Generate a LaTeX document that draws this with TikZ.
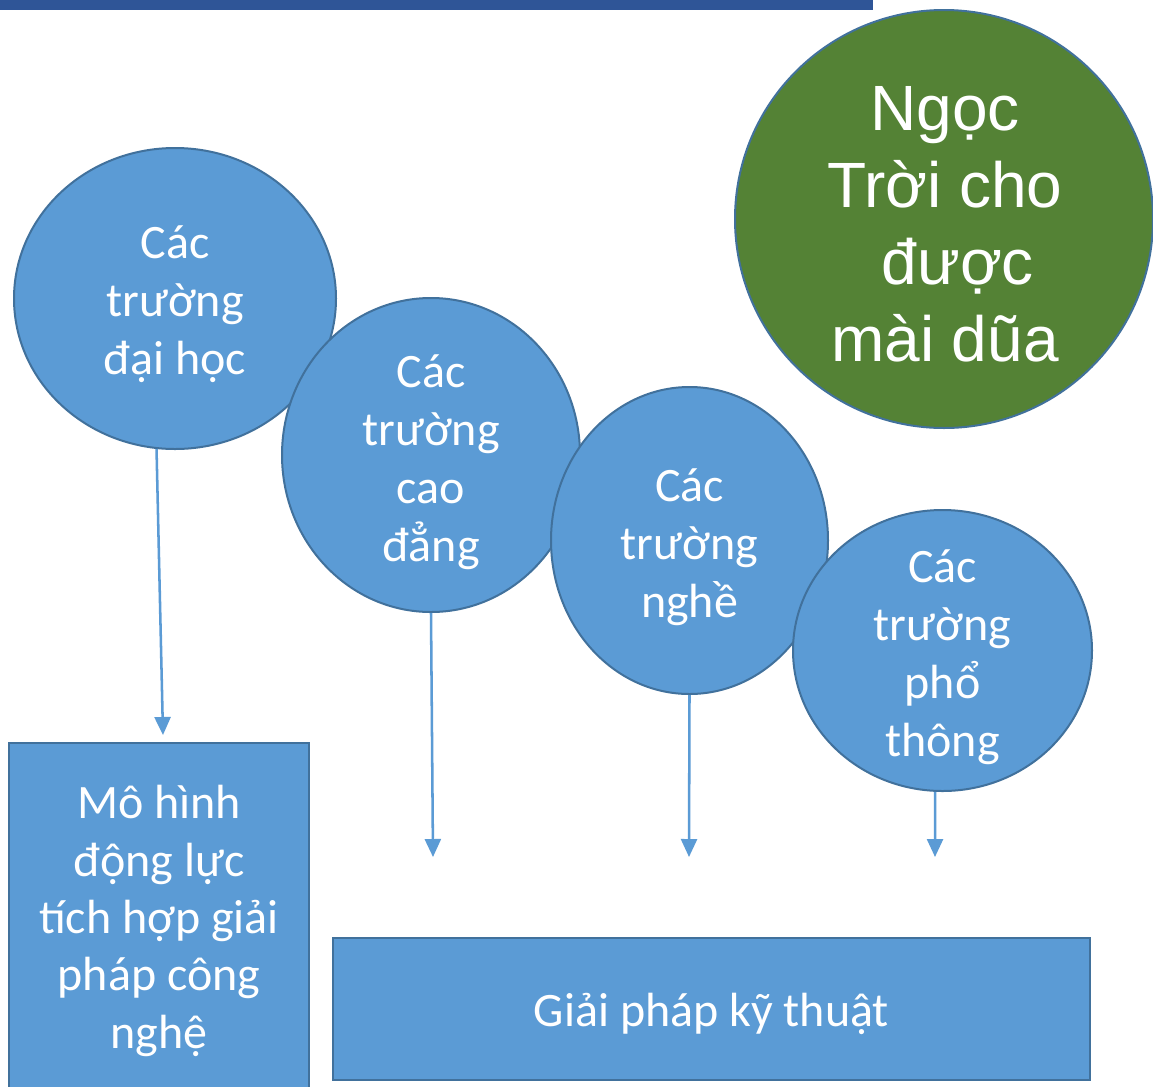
\documentclass[tikz,border=0pt]{standalone}
\usepackage{fontspec}
\setmainfont{Carlito}
\newfontfamily\arialfont{Liberation Sans}
\usetikzlibrary{positioning, arrows.meta, shapes.geometric}
\definecolor{schoolfill}{RGB}{91,155,213}
\definecolor{schoolline}{RGB}{65,113,156}
\definecolor{giftfill}{RGB}{84,130,53}
\definecolor{topbar}{RGB}{47,85,151}
\tikzset{
  schoolnode/.style={
    ellipse, draw=schoolline, line width=1.5pt,
    fill=schoolfill, inner sep=0pt
  },
  schooltext/.style={
    align=center, text=white, inner sep=0pt,
    font=\fontsize{36}{43.5}\selectfont
  },
  giftnode/.style={
    circle, draw=schoolline, line width=1.5pt,
    fill=giftfill, inner sep=0pt, minimum size=313.5pt
  },
  gifttext/.style={
    align=center, text=white, inner sep=0pt,
    font=\arialfont\fontsize{48}{57.75}\selectfont
  },
  solbox/.style={
    rectangle, draw=schoolline, line width=1.5pt,
    fill=schoolfill, align=center, text=white,
    font=\fontsize{36}{43}\selectfont
  },
  linkarrow/.style={
    -{Triangle[length=13.5pt,width=12pt]}, draw=schoolfill, line width=1.9pt
  }
}
\begin{document}
\begin{tikzpicture}[x=0.75pt, y=-0.75pt]
  \clip (0,0) rectangle (1153,1086);
  \fill[white] (0,0) rectangle (1153,1086);
  \fill[topbar] (0,0) rectangle (873,10);

  \node[giftnode] (gift) at (944,219) {};
  \node[gifttext] (gift-t) at (945,224) {Ngọc\\Trời cho\\\hspace*{0.4em}được\\mài dũa};

  % the four kinds of schools
  \node[schoolnode, minimum width=241.5pt, minimum height=225.75pt] (dh) at (175,298.5) {};
  \node[schooltext] (dh-t) at (175,304) {Các\\trường\\đại học};
  \node[schoolnode, minimum width=223.5pt, minimum height=235.5pt] (cd) at (431,455) {};
  \node[schooltext] (cd-t) at (431,462) {Các\\trường\\cao\\đẳng};
  \node[schoolnode, minimum width=207.75pt, minimum height=230.25pt] (ng) at (689.5,540.5) {};
  \node[schooltext] (ng-t) at (689.5,547) {Các\\trường\\nghề};
  \node[schoolnode, minimum width=224.25pt, minimum height=210.75pt] (pt) at (942.5,650.5) {};
  \node[schooltext] (pt-t) at (942.5,657) {Các\\trường\\phổ\\thông};

  \node[solbox, minimum width=225pt, minimum height=267pt] (mh) at (159,921)
    {Mô hình\\động lực\\tích hợp giải\\pháp công\\nghệ};
  \node[solbox, minimum width=567.75pt, minimum height=106.5pt] (gp) at (711.5,1009) {};
  \node[schooltext] (gp-t) at (711.5,1014) {Giải pháp kỹ thuật};

  \coordinate (dh-end) at (163,735);
  \coordinate (cd-end) at (433,857);
  \coordinate (ng-end) at (689,857);
  \coordinate (pt-end) at (935,857);

  \draw[linkarrow] (dh.263.5) -- (dh-end);
  \draw[linkarrow] (cd.south) -- (cd-end);
  \draw[linkarrow] (ng.south) -- (ng-end);
  \draw[linkarrow] (pt.267.5) -- (pt-end);
\end{tikzpicture}
\end{document}
